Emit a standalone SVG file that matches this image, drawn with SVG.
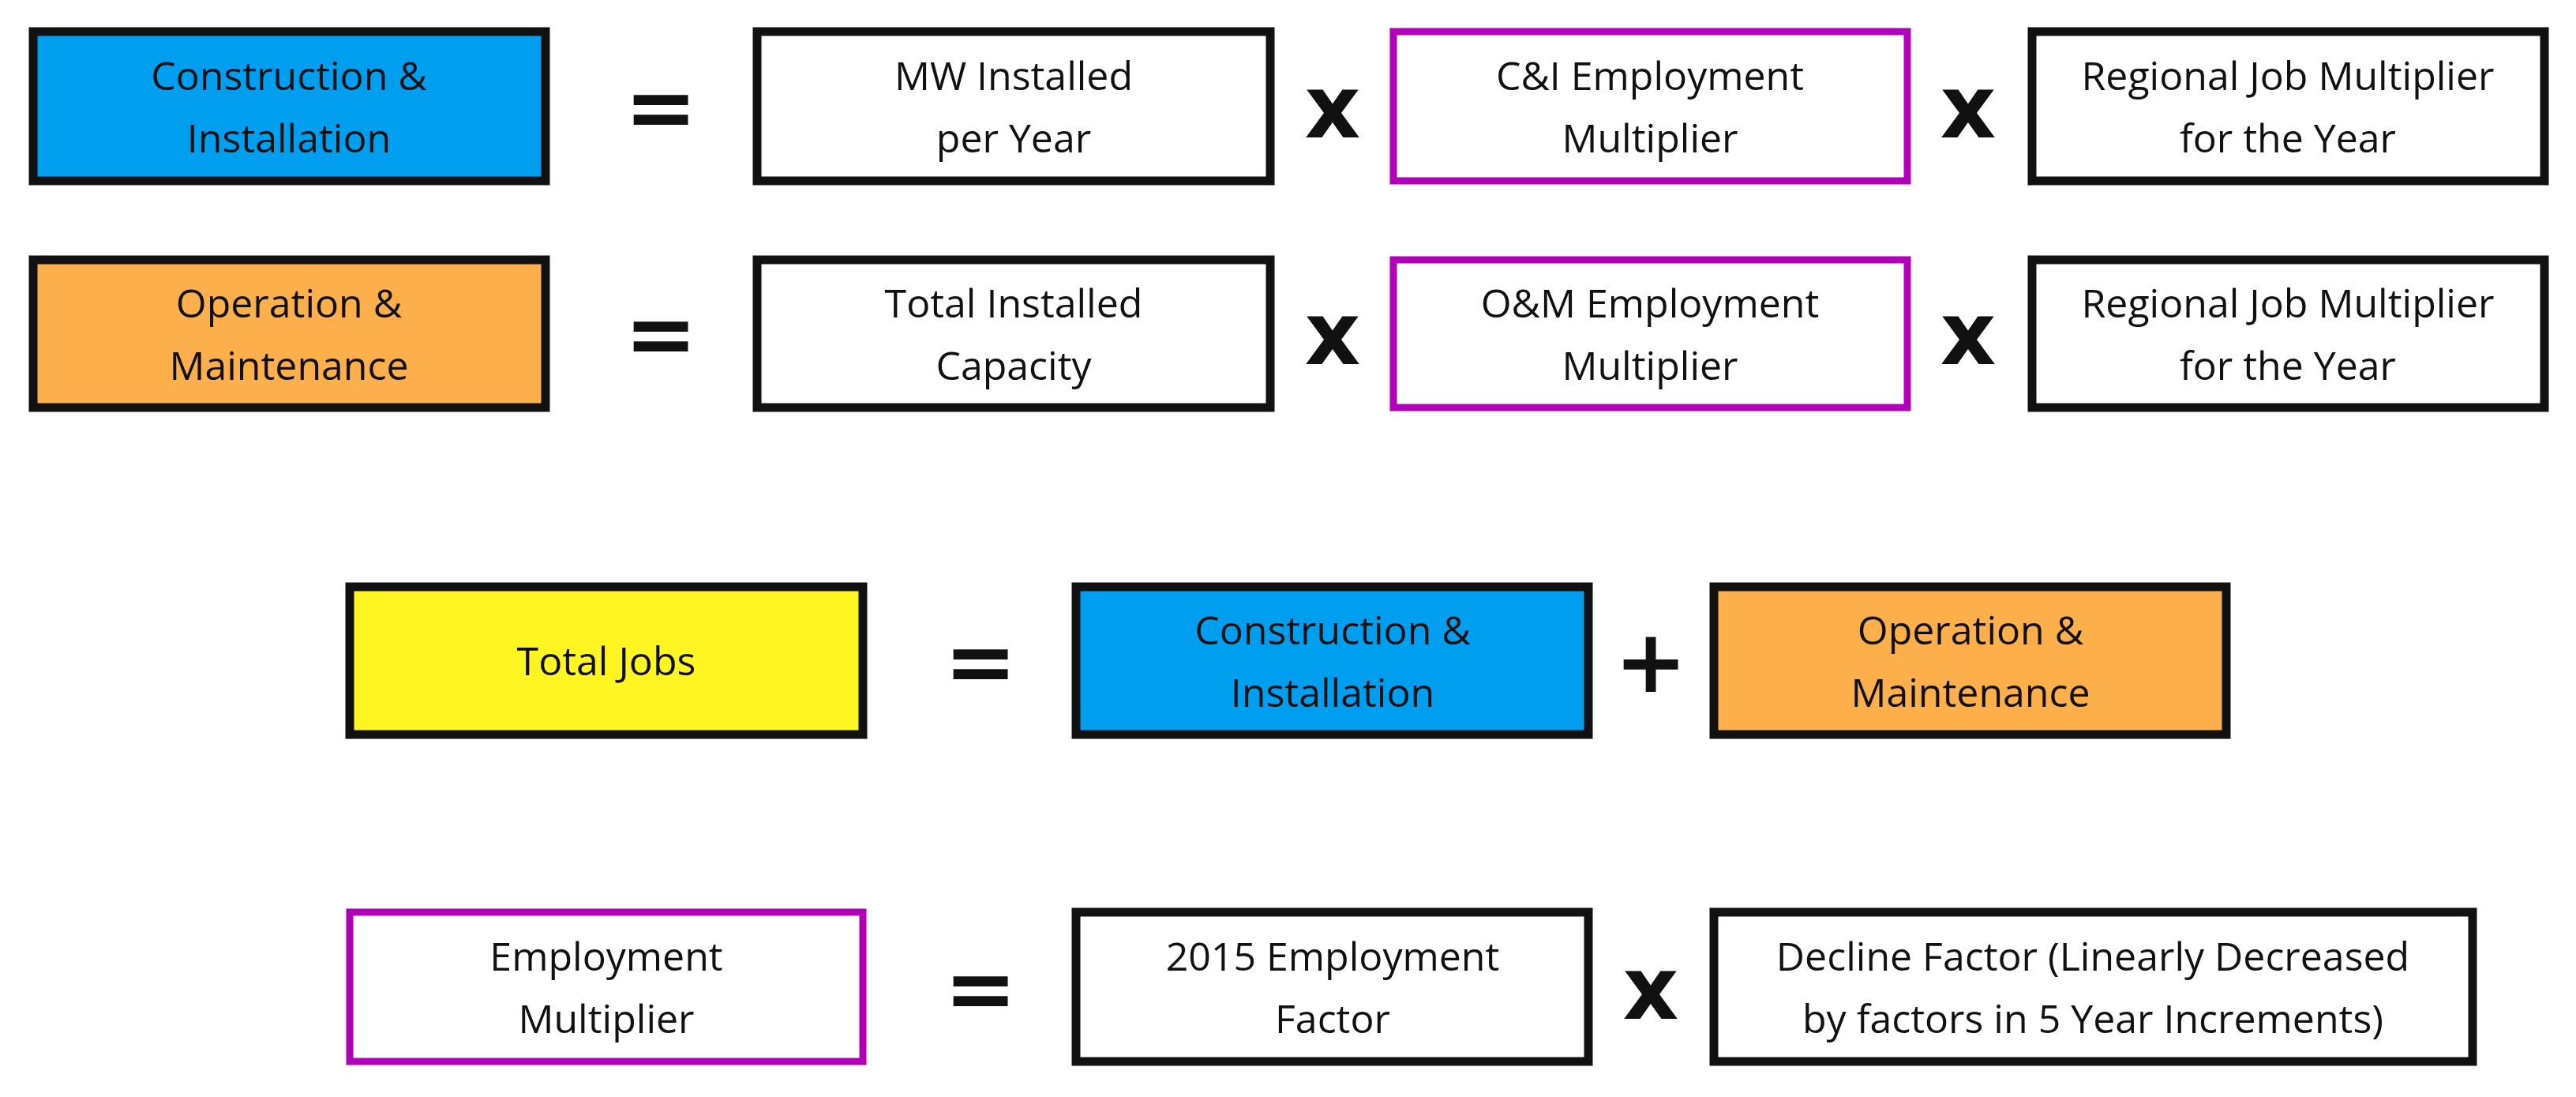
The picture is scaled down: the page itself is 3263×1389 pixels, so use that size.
<svg xmlns="http://www.w3.org/2000/svg" width="3263" height="1389" viewBox="0 0 3263 1389">
<style>
.b{stroke:#111;stroke-width:11}
.m{stroke:#b000b8;stroke-width:9;fill:#fff}
.w{fill:#fff}
.blue{fill:#009eef}
.or{fill:#fdaf4b}
.ye{fill:#fff523}
text{font-family:"Open Sans","Noto Sans",sans-serif;font-size:50px;fill:#111;text-anchor:middle}
.op{font-family:"DejaVu Sans","Liberation Sans",sans-serif;font-weight:bold;font-size:110px}
</style>
<rect width="3263" height="1389" fill="#fff"/>
<g id="ci1"><rect class="b blue" x="42" y="40" width="649" height="189"/><text x="366" y="114">Construction &amp;</text><text x="366" y="193">Installation</text></g>
<g id="mw"><rect class="b w" x="959" y="40" width="650" height="189"/><text x="1284" y="114">MW Installed</text><text x="1284" y="193">per Year</text></g>
<g id="cim"><rect class="m" x="1765" y="40" width="651" height="189"/><text x="2090" y="114">C&amp;I Employment</text><text x="2090" y="193">Multiplier</text></g>
<g id="rj1"><rect class="b w" x="2574" y="40" width="649" height="189"/><text x="2898" y="114">Regional Job Multiplier</text><text x="2898" y="193">for the Year</text></g>
<g id="om1"><rect class="b or" x="42" y="329" width="649" height="187"/><text x="366" y="402">Operation &amp;</text><text x="366" y="481">Maintenance</text></g>
<g id="tic"><rect class="b w" x="959" y="329" width="650" height="187"/><text x="1284" y="402">Total Installed</text><text x="1284" y="481">Capacity</text></g>
<g id="omm"><rect class="m" x="1765" y="329" width="651" height="187"/><text x="2090" y="402">O&amp;M Employment</text><text x="2090" y="481">Multiplier</text></g>
<g id="rj2"><rect class="b w" x="2574" y="329" width="649" height="187"/><text x="2898" y="402">Regional Job Multiplier</text><text x="2898" y="481">for the Year</text></g>
<g id="tj"><rect class="b ye" x="443" y="743" width="650" height="187"/><text x="768" y="855">Total Jobs</text></g>
<g id="ci2"><rect class="b blue" x="1363" y="743" width="649" height="187"/><text x="1688" y="816">Construction &amp;</text><text x="1688" y="895">Installation</text></g>
<g id="om2"><rect class="b or" x="2171" y="743" width="649" height="187"/><text x="2496" y="816">Operation &amp;</text><text x="2496" y="895">Maintenance</text></g>
<g id="em"><rect class="m" x="443" y="1155" width="650" height="189"/><text x="768" y="1229">Employment</text><text x="768" y="1308">Multiplier</text></g>
<g id="ef"><rect class="b w" x="1363" y="1155" width="649" height="189"/><text x="1688" y="1229">2015 Employment</text><text x="1688" y="1308">Factor</text></g>
<g id="df"><rect class="b w" x="2171" y="1155" width="961" height="189"/><text x="2651" y="1229">Decline Factor (Linearly Decreased</text><text x="2651" y="1308">by factors in 5 Year Increments)</text></g>
<g id="connectors">
<text class="op" x="837" y="174">=</text><text class="op" x="1688" y="174">x</text><text class="op" x="2493" y="174">x</text>
<text class="op" x="837" y="461">=</text><text class="op" x="1688" y="461">x</text><text class="op" x="2493" y="461">x</text>
<text class="op" x="1242" y="876">=</text><text class="op" x="2091" y="876">+</text>
<text class="op" x="1242" y="1290">=</text><text class="op" x="2091" y="1290">x</text>
</g>
</svg>
